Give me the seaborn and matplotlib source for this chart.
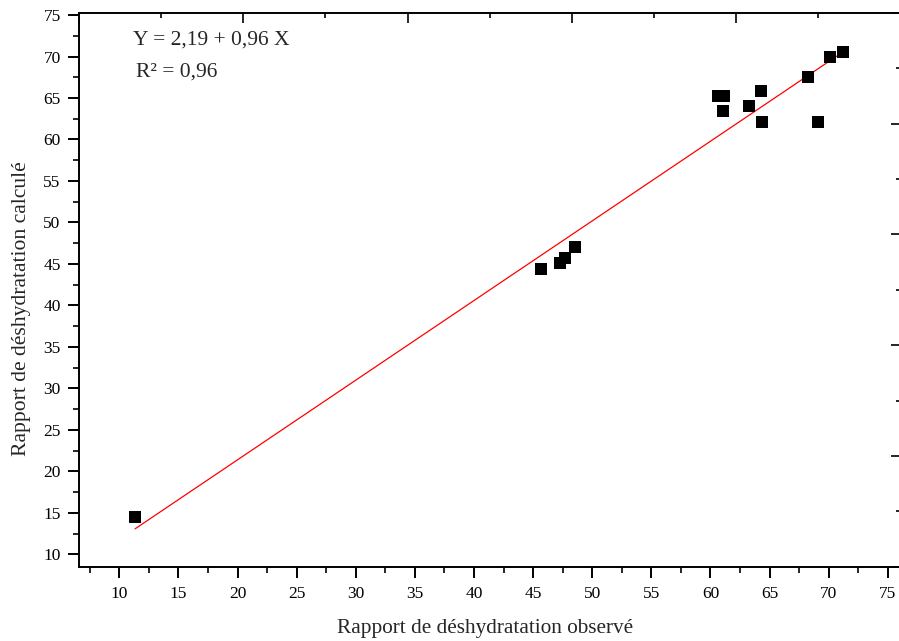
import numpy as np
import pandas as pd
import matplotlib
matplotlib.use("Agg")
import matplotlib.pyplot as plt
from matplotlib.ticker import MultipleLocator
import seaborn as sns

# ---- data ----
observed = [11.33, 45.67, 47.27, 47.70, 48.54, 60.65, 61.10, 61.08, 63.28,
            64.27, 64.33, 68.27, 69.12, 70.11, 71.21]
calculated = [14.50, 44.35, 45.07, 45.75, 47.07, 65.27, 65.27, 63.47, 64.07,
              65.88, 62.14, 67.57, 62.10, 69.90, 70.54]
intercept = 2.19
slope = 0.96
equation_text = "Y = 2,19 + 0,96 X"
r2_text = "R² = 0,96"
x_label = "Rapport de déshydratation observé"
y_label = "Rapport de déshydratation calculé"

df = pd.DataFrame({"obs": observed, "calc": calculated})
line_x = np.array([min(observed), max(observed)])
line_df = pd.DataFrame({"obs": line_x, "calc": intercept + slope * line_x})

sns.set_style("ticks")
plt.rcParams["font.family"] = ["Liberation Serif", "DejaVu Serif"]

W, H = 899, 641
fig = plt.figure(figsize=(W / 100, H / 100), dpi=100)
left, right, top, bottom = 79, 900.5, 12.7, 566.7
ax = fig.add_axes([left / W, 1 - bottom / H, (right - left) / W, (bottom - top) / H])

XMIN, XMAX = 6.59, 76.07
YMIN, YMAX = 8.505, 75.28

sns.lineplot(data=line_df, x="obs", y="calc", ax=ax, color="#ff0000", lw=0.9, zorder=2)
sns.scatterplot(data=df, x="obs", y="calc", ax=ax, marker="s", s=72, color="black",
                edgecolor="black", linewidth=0, zorder=3)

ax.set_xlim(XMIN, XMAX)
ax.set_ylim(YMIN, YMAX)
ax.xaxis.set_major_locator(MultipleLocator(5))
ax.xaxis.set_minor_locator(MultipleLocator(2.5))
ax.yaxis.set_major_locator(MultipleLocator(5))
ax.yaxis.set_minor_locator(MultipleLocator(2.5))

for s in ax.spines.values():
    s.set_visible(True)
    s.set_linewidth(1.4)
    s.set_color("black")

ax.tick_params(which="major", direction="out", length=7.7, width=1.4, labelsize=12.5,
               pad=5.5, colors="black", top=False, right=False)
ax.tick_params(axis="x", which="major", pad=6.5)
ax.tick_params(which="minor", direction="out", length=4, width=1.4, top=False, right=False)

ax.set_xlabel(x_label, fontsize=15.3)
ax.set_ylabel(y_label, fontsize=15.6)
ax.xaxis.set_label_coords((485 - left) / (right - left), -0.0944)
ax.yaxis.set_label_coords(-0.058, 0.466)

# secondary axes (top / right) with their own 0-10 scale, ticks only
fx = lambda x: (x - XMIN) / (XMAX - XMIN) * 10
fxi = lambda t: XMIN + t / 10 * (XMAX - XMIN)
fy = lambda y: (y - YMIN) / (YMAX - YMIN) * 10
fyi = lambda t: YMIN + t / 10 * (YMAX - YMIN)
sec_x = ax.secondary_xaxis("top", functions=(fx, fxi))
sec_y = ax.secondary_yaxis("right", functions=(fy, fyi))
for sec in (sec_x, sec_y):
    sec.spines[:].set_visible(False)
sec_x.xaxis.set_major_locator(MultipleLocator(2))
sec_x.xaxis.set_minor_locator(MultipleLocator(1))
sec_y.yaxis.set_major_locator(MultipleLocator(2))
sec_y.yaxis.set_minor_locator(MultipleLocator(1))
for sec in (sec_x, sec_y):
    sec.tick_params(which="major", direction="in", length=7.2, width=1.4,
                    labelbottom=False, labeltop=False, labelleft=False, labelright=False)
    sec.tick_params(which="minor", direction="in", length=3.5, width=1.4)

ax.text(11.16, 71.99, equation_text, fontsize=15.5, va="center", ha="left")
ax.text(11.41, 68.13, r2_text, fontsize=15.5, va="center", ha="left")

fig.savefig("out.png", dpi=100)
